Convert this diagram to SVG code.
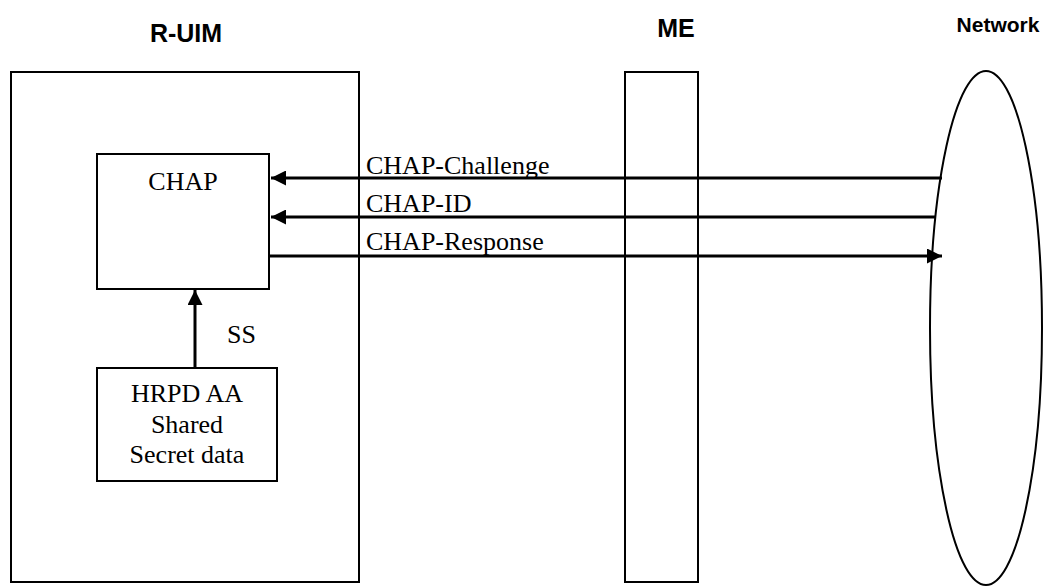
<svg xmlns="http://www.w3.org/2000/svg" width="1044" height="586" viewBox="0 0 1044 586">
<style>
.box{fill:#fff;stroke:#000;stroke-width:2}
.hdr{font-family:"Liberation Sans",Arial,sans-serif;font-weight:bold;font-size:25px;fill:#000}
.hdr.sm{font-size:21px}
.t{font-family:"Liberation Serif","Times New Roman",serif;font-size:26px;fill:#000}
.ln{stroke:#000;stroke-width:3;fill:none}
</style>
<defs>
<marker id="ah" viewBox="0 0 10 10" refX="10" refY="5" markerWidth="5.5" markerHeight="5" orient="auto" markerUnits="strokeWidth">
<path d="M0,0 L10,5 L0,10 z" fill="#000"/>
</marker>
</defs>
<rect width="1044" height="586" fill="#fff"/>
<g id="ruim">
<rect class="box" x="11" y="72" width="348" height="510"/>
<text class="hdr" x="186" y="42" text-anchor="middle">R-UIM</text>
</g>
<g id="me">
<rect class="box" x="625" y="72" width="73" height="510"/>
<text class="hdr" x="676" y="37" text-anchor="middle">ME</text>
</g>
<g id="network">
<ellipse cx="986" cy="328" rx="56" ry="257" fill="none" stroke="#000" stroke-width="2"/>
<text class="hdr sm" x="998" y="32" text-anchor="middle">Network</text>
</g>
<g id="chap">
<rect class="box" x="97" y="154" width="172" height="135"/>
<text class="t" x="183" y="190" text-anchor="middle">CHAP</text>
</g>
<g id="hrpd">
<rect class="box" x="97" y="368" width="180" height="113"/>
<text class="t" x="187" y="402" text-anchor="middle">HRPD AA</text>
<text class="t" x="187" y="433" text-anchor="middle">Shared</text>
<text class="t" x="187" y="463" text-anchor="middle">Secret data</text>
</g>
<g id="connectors">
<line class="ln" x1="942" y1="178" x2="271" y2="178" marker-end="url(#ah)"/>
<line class="ln" x1="935" y1="217" x2="271" y2="217" marker-end="url(#ah)"/>
<line class="ln" x1="269" y1="256" x2="942" y2="256" marker-end="url(#ah)"/>
<line class="ln" x1="195" y1="368" x2="195" y2="290" marker-end="url(#ah)"/>
<text class="t" x="366" y="174">CHAP-Challenge</text>
<text class="t" x="366" y="212">CHAP-ID</text>
<text class="t" x="366" y="250">CHAP-Response</text>
<text class="t" x="227" y="343">SS</text>
</g>
</svg>
